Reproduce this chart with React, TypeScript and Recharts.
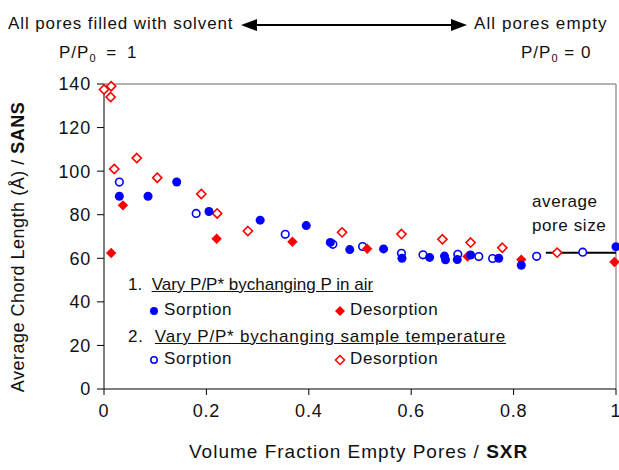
import React from "react"
import { ReferenceLine, Scatter, ScatterChart, XAxis, YAxis } from "recharts"

// volume fraction empty pores (SXR) vs average chord length (SANS)
const sorptionAir = [
  { x: 0.03, y: 88.5 },
  { x: 0.086, y: 88.5 },
  { x: 0.142, y: 95 },
  { x: 0.205, y: 81.5 },
  { x: 0.305, y: 77.5 },
  { x: 0.395, y: 75 },
  { x: 0.442, y: 67.3 },
  { x: 0.48, y: 64 },
  { x: 0.546, y: 64.3 },
  { x: 0.582, y: 60 },
  { x: 0.636, y: 60.4 },
  { x: 0.665, y: 61 },
  { x: 0.667, y: 59.3 },
  { x: 0.69, y: 59.4 },
  { x: 0.716, y: 61.5 },
  { x: 0.771, y: 60 },
  { x: 0.815, y: 56.8 },
  { x: 1.0, y: 65.3 },
]

const desorptionAir = [
  { x: 0.014, y: 62.4 },
  { x: 0.037, y: 84.3 },
  { x: 0.22, y: 69 },
  { x: 0.368, y: 67.6 },
  { x: 0.514, y: 64.4 },
  { x: 0.71, y: 60.8 },
  { x: 0.815, y: 59.4 },
  { x: 0.997, y: 58.3 },
]

const sorptionTemp = [
  { x: 0.03, y: 95 },
  { x: 0.18, y: 80.6 },
  { x: 0.354, y: 71 },
  { x: 0.447, y: 66.4 },
  { x: 0.505, y: 65.4 },
  { x: 0.581, y: 62.3 },
  { x: 0.623, y: 61.6 },
  { x: 0.691, y: 61.8 },
  { x: 0.732, y: 60.8 },
  { x: 0.759, y: 59.9 },
  { x: 0.845, y: 60.9 },
  { x: 0.935, y: 62.8 },
]

const desorptionTemp = [
  { x: 0, y: 137.5 },
  { x: 0.014, y: 139 },
  { x: 0.013, y: 134 },
  { x: 0.02, y: 101 },
  { x: 0.064, y: 106 },
  { x: 0.104, y: 97 },
  { x: 0.19, y: 89.5 },
  { x: 0.221, y: 80.6 },
  { x: 0.281, y: 72.5 },
  { x: 0.465, y: 71.9 },
  { x: 0.581, y: 71.1 },
  { x: 0.661, y: 68.7 },
  { x: 0.716, y: 67.2 },
  { x: 0.778, y: 64.8 },
  { x: 0.885, y: 62.6 },
]

const poreSizeLine = [
  { x: 0.863, y: 62.5 },
  { x: 1, y: 62.5 },
]

const xTicks = [0, 0.2, 0.4, 0.6, 0.8, 1]
const yTicks = [0, 20, 40, 60, 80, 100, 120, 140]

const BLUE = "#0000ff"
const RED = "#ff0000"
const INK = "#111"
const FONT = "'Liberation Sans', Arial, sans-serif"

const dot = (color: string, open: boolean) => (p: any) => (
  <circle cx={p.cx} cy={p.cy} r={open ? 3.8 : 4.5} fill={open ? "#fff" : color} stroke={color} strokeWidth={open ? 1.6 : 0} />
)

const diamond = (color: string, open: boolean) => (p: any) => {
  const s = open ? 4.6 : 5.2
  const pts = `${p.cx},${p.cy - s} ${p.cx + s},${p.cy} ${p.cx},${p.cy + s} ${p.cx - s},${p.cy}`
  return <polygon points={pts} fill={open ? "#fff" : color} stroke={color} strokeWidth={open ? 1.6 : 0} />
}

const txt: React.CSSProperties = {
  position: "absolute",
  fontFamily: FONT,
  fontSize: 17,
  letterSpacing: 0.6,
  color: INK,
  whiteSpace: "nowrap",
  lineHeight: "20px",
}

const tickStyle = { fill: INK, fontSize: 18, fontFamily: FONT, style: { letterSpacing: 0.8 } }

function Marker({ kind }: { kind: string }) {
  return (
    <svg width={12} height={12} style={{ verticalAlign: "middle", marginRight: 4 }}>
      {kind === "dot" && <circle cx={6} cy={6} r={4} fill={BLUE} />}
      {kind === "odot" && <circle cx={6} cy={6} r={3.2} fill="#fff" stroke={BLUE} strokeWidth={1.5} />}
      {kind === "dia" && <polygon points="6,1 11,6 6,11 1,6" fill={RED} />}
      {kind === "odia" && <polygon points="6,1.5 10.5,6 6,10.5 1.5,6" fill="#fff" stroke={RED} strokeWidth={1.5} />}
    </svg>
  )
}

export default function App() {
  return (
    <div style={{ position: "absolute", left: 0, top: 0, width: 619, height: 470, background: "#fff" }}>
      <ScatterChart width={619} height={470} margin={{ top: 84, right: 3, bottom: 51, left: 0 }}>
        <XAxis
          type="number"
          dataKey="x"
          domain={[0, 1]}
          ticks={xTicks}
          interval={0}
          height={30}
          tickSize={6}
          tickMargin={9}
          stroke="#000"
          tick={tickStyle}
        />
        <YAxis
          type="number"
          dataKey="y"
          domain={[0, 140]}
          ticks={yTicks}
          interval={0}
          width={104}
          tickSize={7}
          tickMargin={6}
          stroke="#000"
          tick={tickStyle}
        />
        <ReferenceLine y={140} stroke="#999" strokeWidth={1.5} />
        <ReferenceLine x={1} stroke="#999" strokeWidth={1.5} />
        <ReferenceLine segment={poreSizeLine} stroke="#000" strokeWidth={2} />
        <Scatter data={desorptionTemp} shape={diamond(RED, true)} isAnimationActive={false} />
        <Scatter data={sorptionTemp} shape={dot(BLUE, true)} isAnimationActive={false} />
        <Scatter data={desorptionAir} shape={diamond(RED, false)} isAnimationActive={false} />
        <Scatter data={sorptionAir} shape={dot(BLUE, false)} isAnimationActive={false} />
      </ScatterChart>

      {/* top annotation */}
      <div style={{ ...txt, left: 8, top: 14, letterSpacing: 0.9 }}>All pores filled with solvent</div>
      <div style={{ ...txt, left: 474, top: 14, letterSpacing: 1.1 }}>All pores empty</div>
      <div style={{ ...txt, left: 59, top: 43, letterSpacing: 1, wordSpacing: 4 }}>
        P/P<sub style={{ fontSize: 11 }}>0</sub> = 1
      </div>
      <div style={{ ...txt, left: 521, top: 43, letterSpacing: 1 }}>
        P/P<sub style={{ fontSize: 11 }}>0</sub> = 0
      </div>
      <svg width={619} height={40} style={{ position: "absolute", left: 0, top: 0 }}>
        <line x1={254} y1={25} x2={455} y2={25} stroke="#000" strokeWidth={2} />
        <polygon points="241,25 257,19 257,31" fill="#000" />
        <polygon points="467,25 451,19 451,31" fill="#000" />
      </svg>

      {/* axis titles */}
      <div style={{ ...txt, left: 189, top: 441, fontSize: 19, letterSpacing: 1, lineHeight: "22px" }}>
        Volume Fraction Empty Pores / <b>SXR</b>
      </div>
      <div
        style={{
          ...txt,
          left: 18,
          top: 247,
          fontSize: 18,
          letterSpacing: 0.5,
          transform: "translate(-50%, -50%) rotate(-90deg)",
        }}
      >
        Average Chord Length (Å) / <b>SANS</b>
      </div>

      {/* average pore size note */}
      <div style={{ ...txt, left: 532, top: 192 }}>average</div>
      <div style={{ ...txt, left: 532, top: 216 }}>pore size</div>

      {/* legend inside plot */}
      <div style={{ ...txt, left: 128, top: 275, letterSpacing: 0 }}>
        1.&nbsp;&nbsp;<span style={{ textDecoration: "underline" }}>Vary P/P* bychanging P in air</span>
      </div>
      <div style={{ ...txt, left: 148, top: 300 }}>
        <Marker kind="dot" />Sorption
      </div>
      <div style={{ ...txt, left: 334, top: 300 }}>
        <Marker kind="dia" />Desorption
      </div>
      <div style={{ ...txt, left: 128, top: 327, letterSpacing: 0.8 }}>
        2.&nbsp;&nbsp;<span style={{ textDecoration: "underline" }}>Vary P/P* bychanging sample temperature</span>
      </div>
      <div style={{ ...txt, left: 148, top: 349 }}>
        <Marker kind="odot" />Sorption
      </div>
      <div style={{ ...txt, left: 334, top: 349 }}>
        <Marker kind="odia" />Desorption
      </div>
    </div>
  )
}
